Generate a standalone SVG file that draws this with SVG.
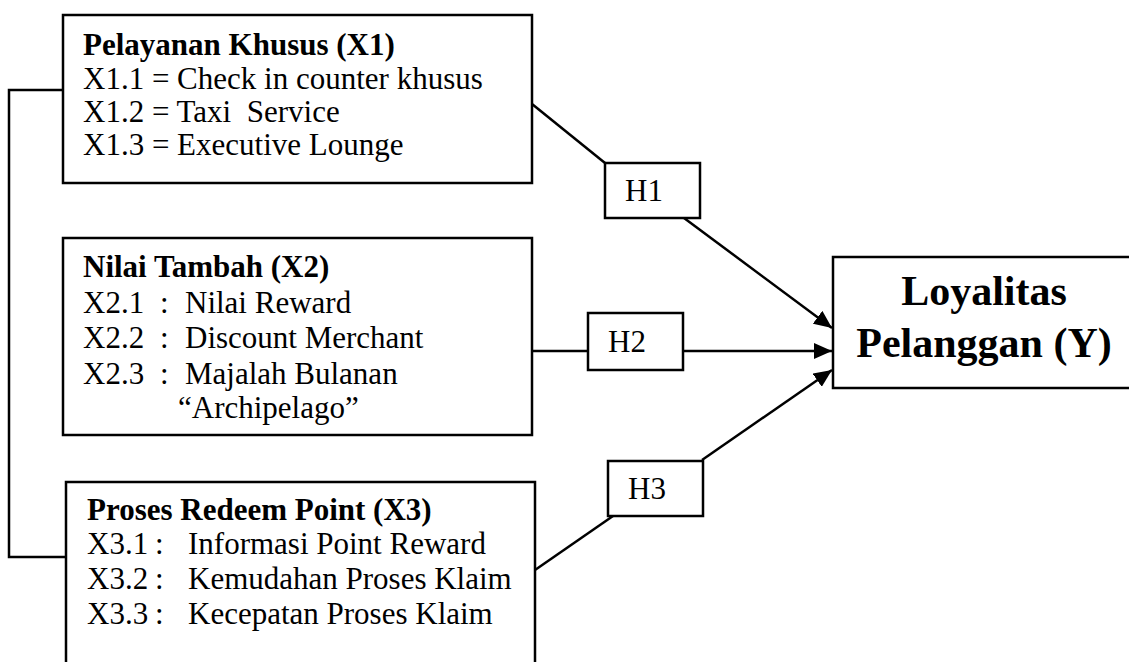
<svg xmlns="http://www.w3.org/2000/svg" width="1129" height="662" viewBox="0 0 1129 662">
<defs>
<style>
.box{fill:#fff;stroke:#000;stroke-width:2.5}
.ln{fill:none;stroke:#000;stroke-width:2.5}
.t{font-family:"Liberation Serif","Times New Roman",serif;font-size:31px;fill:#000}
.b{font-weight:bold}
.y{font-family:"Liberation Serif","Times New Roman",serif;font-size:42px;font-weight:bold;fill:#000}
</style>
<marker id="ah" markerWidth="18" markerHeight="16" refX="18" refY="8" orient="auto" markerUnits="userSpaceOnUse" viewBox="0 0 18 16">
<path d="M0,0 L18,8 L0,16 Z" fill="#000"/>
</marker>
</defs>
<rect width="1129" height="662" fill="#fff"/>
<g id="connectors">
<polyline class="ln" points="63,90 9,90 9,557 66,557"/>
<line class="ln" x1="532" y1="104" x2="605" y2="163"/>
<line class="ln" x1="684" y1="218" x2="832" y2="328" marker-end="url(#ah)"/>
<line class="ln" x1="532" y1="351" x2="588" y2="351"/>
<line class="ln" x1="683" y1="351" x2="832" y2="351" marker-end="url(#ah)"/>
<line class="ln" x1="535" y1="570" x2="613" y2="516"/>
<line class="ln" x1="702" y1="460" x2="832" y2="370" marker-end="url(#ah)"/>
</g>
<g id="x1">
<rect class="box" x="63" y="15" width="469" height="168"/>
<text class="t b" x="83" y="55">Pelayanan Khusus (X1)</text>
<text class="t" x="83" y="89">X1.1 = Check in counter khusus</text>
<text class="t" x="83" y="122" xml:space="preserve">X1.2 = Taxi  Service</text>
<text class="t" x="83" y="155">X1.3 = Executive Lounge</text>
</g>
<g id="x2">
<rect class="box" x="63" y="238" width="469" height="197"/>
<text class="t b" x="83" y="277">Nilai Tambah (X2)</text>
<text class="t" y="313"><tspan x="83">X2.1</tspan><tspan x="160">:</tspan><tspan x="185">Nilai Reward</tspan></text>
<text class="t" y="348"><tspan x="83">X2.2</tspan><tspan x="160">:</tspan><tspan x="185">Discount Merchant</tspan></text>
<text class="t" y="384"><tspan x="83">X2.3</tspan><tspan x="160">:</tspan><tspan x="185">Majalah Bulanan</tspan></text>
<text class="t" x="178" y="418">“Archipelago”</text>
</g>
<g id="x3">
<rect class="box" x="66" y="482" width="469" height="200"/>
<text class="t b" x="87" y="520">Proses Redeem Point (X3)</text>
<text class="t" y="554"><tspan x="87">X3.1</tspan><tspan x="155">:</tspan><tspan x="188">Informasi Point Reward</tspan></text>
<text class="t" y="589"><tspan x="87">X3.2</tspan><tspan x="155">:</tspan><tspan x="188">Kemudahan Proses Klaim</tspan></text>
<text class="t" y="624"><tspan x="87">X3.3</tspan><tspan x="155">:</tspan><tspan x="188">Kecepatan Proses Klaim</tspan></text>
</g>
<g id="h1">
<rect class="box" x="605" y="163" width="95" height="55"/>
<text class="t" x="625" y="201">H1</text>
</g>
<g id="h2">
<rect class="box" x="588" y="313" width="95" height="57"/>
<text class="t" x="608" y="352">H2</text>
</g>
<g id="h3">
<rect class="box" x="608" y="461" width="95" height="55"/>
<text class="t" x="628" y="499">H3</text>
</g>
<g id="y">
<rect class="box" x="833" y="257" width="310" height="131"/>
<text class="y" x="984" y="305" text-anchor="middle">Loyalitas</text>
<text class="y" x="984" y="357" text-anchor="middle">Pelanggan (Y)</text>
</g>
</svg>
